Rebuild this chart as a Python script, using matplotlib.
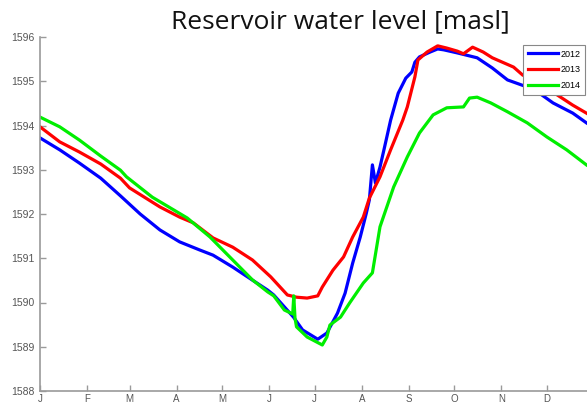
import matplotlib
matplotlib.use("Agg")
import matplotlib.pyplot as plt

# ---- data (day of year, reservoir level in masl) ----
days_2012 = [0, 13, 26, 40, 53, 66, 79, 92, 105, 114, 127, 138, 150, 154, 167, 173, 183, 189, 196, 201,
             206, 211, 215, 217, 219, 221, 224, 227, 231, 236, 241, 245, 247, 250, 257, 262, 266, 275, 288, 298,
             308, 321, 329, 338, 351, 360]
level_2012 = [1593.72, 1593.45, 1593.15, 1592.81, 1592.41, 1592.00, 1591.64, 1591.37, 1591.19, 1591.07,
              1590.80, 1590.55, 1590.28, 1590.17, 1589.67, 1589.38, 1589.17, 1589.31, 1589.76, 1590.21,
              1590.89, 1591.48, 1592.02, 1592.32, 1593.11, 1592.70, 1593.06, 1593.51, 1594.12, 1594.73,
              1595.07, 1595.21, 1595.43, 1595.55, 1595.66, 1595.73, 1595.71, 1595.64, 1595.53, 1595.30,
              1595.03, 1594.87, 1594.73, 1594.51, 1594.28, 1594.06]

days_2013 = [0, 13, 26, 40, 53, 59, 79, 92, 101, 114, 127, 140, 152, 163, 169, 176, 183, 186, 193, 200,
             206, 213, 217, 224, 231, 239, 242, 247, 249, 255, 262, 268, 275, 279, 285, 292, 298, 312, 318, 329,
             343, 351, 360]
level_2013 = [1593.97, 1593.63, 1593.40, 1593.13, 1592.81, 1592.59, 1592.16, 1591.93, 1591.80, 1591.46,
              1591.25, 1590.96, 1590.58, 1590.17, 1590.12, 1590.10, 1590.15, 1590.35, 1590.73, 1591.03,
              1591.48, 1591.93, 1592.36, 1592.84, 1593.45, 1594.12, 1594.42, 1595.10, 1595.48, 1595.66,
              1595.80, 1595.75, 1595.68, 1595.62, 1595.77, 1595.66, 1595.53, 1595.32, 1595.14, 1594.96,
              1594.64, 1594.46, 1594.28]

days_2014 = [0, 13, 26, 40, 53, 57, 74, 97, 112, 127, 140, 150, 154, 161, 166.5, 167.2, 168, 169, 176, 186,
             189, 191, 198, 204, 213, 219, 224, 233, 242, 250, 259, 268, 279, 283, 288, 297, 308, 321, 334, 347,
             360]
level_2014 = [1594.19, 1593.97, 1593.67, 1593.31, 1592.99, 1592.84, 1592.38, 1591.91, 1591.48, 1590.96,
              1590.51, 1590.24, 1590.15, 1589.83, 1589.74, 1590.15, 1589.65, 1589.45, 1589.22, 1589.04,
              1589.22, 1589.49, 1589.67, 1589.99, 1590.44, 1590.67, 1591.71, 1592.61, 1593.29, 1593.83,
              1594.24, 1594.40, 1594.42, 1594.62, 1594.64, 1594.51, 1594.31, 1594.06, 1593.74, 1593.45,
              1593.11]

month_starts = [0, 31, 59, 90, 120, 151, 181, 212, 243, 273, 304, 334]
month_labels = ["J", "F", "M", "A", "M", "J", "J", "A", "S", "O", "N", "D"]
y_ticks = [1588, 1589, 1590, 1591, 1592, 1593, 1594, 1595, 1596]

series = [("2012", days_2012, level_2012, "#0000ff"),
          ("2013", days_2013, level_2013, "#ff0000"),
          ("2014", days_2014, level_2014, "#00ee00")]

plt.rcParams['font.family'] = ['Liberation Sans', 'DejaVu Sans']

fig = plt.figure(figsize=(5.87, 4.07), dpi=100)
ax = fig.add_axes([40 / 587, 16 / 407, 554 / 587, 354 / 407])

for name, d, v, c in series:
    ax.plot(d, v, color=c, lw=2.3, label=name, solid_joinstyle='round')

ax.set_xlim(0, 365)
ax.set_ylim(1588, 1596)
ax.set_xticks(month_starts)
ax.set_xticklabels(month_labels)
ax.set_yticks(y_ticks)

for s in ["top", "right"]:
    ax.spines[s].set_visible(False)
for s in ["left", "bottom"]:
    ax.spines[s].set_color("#9a9a9a")
    ax.spines[s].set_linewidth(1.2)
ax.tick_params(axis='both', direction='in', length=4, width=1, color="#9a9a9a",
               labelsize=7.5, labelcolor="#555555")
ax.tick_params(axis='y', pad=4)
ax.tick_params(axis='x', pad=2, labelsize=7)

leg = ax.legend(loc='upper right', bbox_to_anchor=(585 / 587, 1 - 45 / 407),
                bbox_transform=fig.transFigure, fontsize=6.5, handlelength=3.3,
                handletextpad=0.3, borderpad=0.5, labelspacing=0.75, fancybox=False,
                framealpha=1, borderaxespad=0)
leg.get_frame().set_edgecolor("#888888")
leg.get_frame().set_linewidth(0.8)

fig.text(340 / 587, 1 - 22 / 407, "Reservoir water level [masl]", ha='center', va='center',
         fontsize=19, family=['Open Sans', 'DejaVu Sans'], color="#111111")

fig.savefig("out.png", dpi=100)
